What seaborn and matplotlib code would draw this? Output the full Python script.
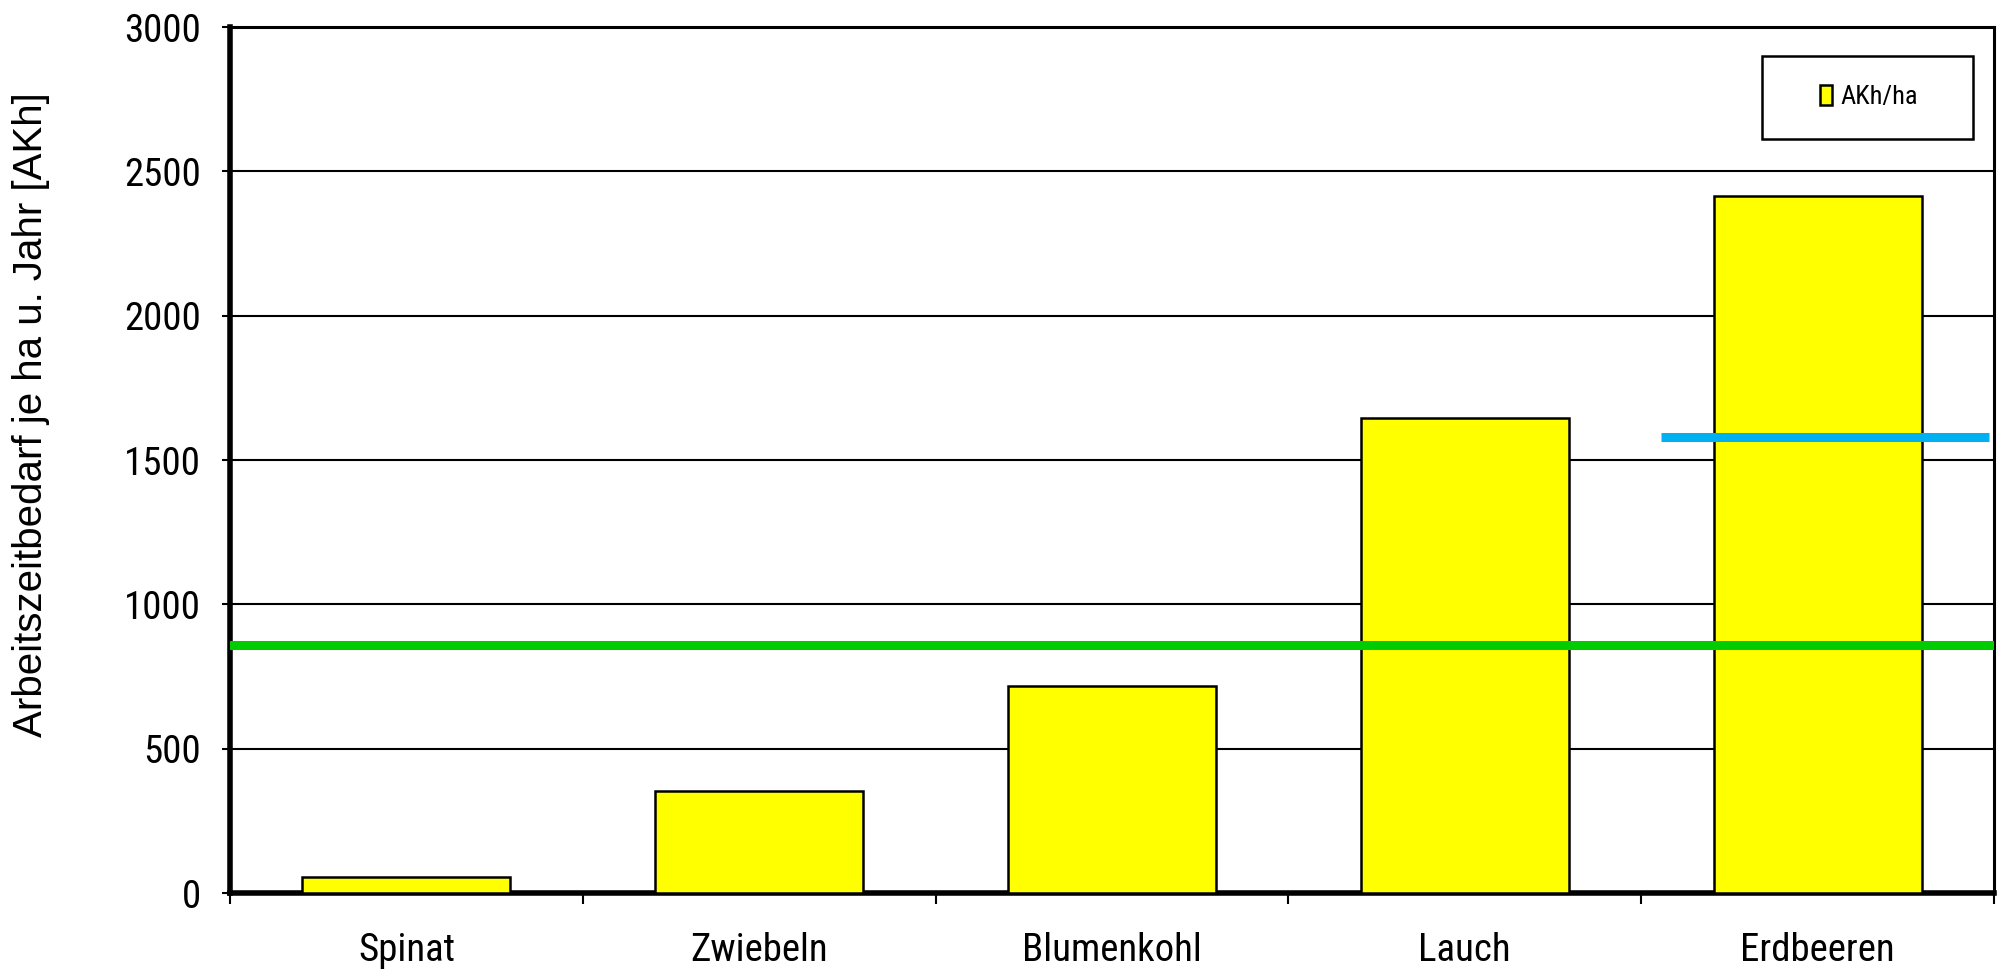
import matplotlib
matplotlib.use("Agg")
import matplotlib.pyplot as plt
from matplotlib import font_manager
from matplotlib.patches import Rectangle
import seaborn as sns
import pandas as pd

categories = ["Spinat", "Zwiebeln", "Blumenkohl", "Lauch", "Erdbeeren"]
akh_per_ha = [55, 355, 718, 1645, 2415]
green_level = 860
blue_level = 1580
y_ticks = [0, 500, 1000, 1500, 2000, 2500, 3000]
legend_label = "AKh/ha"
y_label = "Arbeitszeitbedarf je ha u. Jahr [AKh]"

sns.set_theme(style="white")
names = {f.name for f in font_manager.fontManager.ttflist}
narrow = None
for cand in ["Liberation Sans Narrow", "Roboto Condensed", "Open Sans Condensed", "Noto Sans Condensed"]:
    if cand in names:
        narrow = cand
        break
if narrow is None:
    narrow = "Liberation Sans"
plt.rcParams['font.family'] = [narrow, 'DejaVu Sans']

df = pd.DataFrame({"cat": categories, "val": akh_per_ha})

fig = plt.figure(figsize=(20.02, 9.72), dpi=100)
ax = fig.add_axes([230/2002, 1-893/972, (1994-230)/2002, (893-27)/972])

sns.barplot(data=df, x="cat", y="val", color="#FFFF00", edgecolor="black",
            linewidth=1.8, width=0.59, saturation=1, ax=ax, label=legend_label, zorder=3)

ax.set_xlim(-0.5, len(categories) - 0.5)
ax.set_ylim(0, 3000)
ax.set_yticks(y_ticks)
ax.yaxis.grid(True, color="black", linewidth=1.5)
ax.set_axisbelow(True)

ax.axhline(green_level, color="#00CC00", linewidth=6.5, zorder=4)
ax.plot([3.556, 4.486], [blue_level, blue_level], color="#00B0F0", linewidth=6.5, zorder=4, solid_capstyle="butt")

for side, lw in [("left", 4), ("bottom", 4), ("top", 2.2), ("right", 2.2)]:
    ax.spines[side].set_visible(True)
    ax.spines[side].set_color("black")
    ax.spines[side].set_linewidth(lw)

ax.set_xticks(range(len(categories)))
ax.set_xticklabels(categories, fontsize=28, color="black")
ax.set_xticks([i - 0.5 for i in range(len(categories) + 1)], minor=True)
ax.tick_params(axis="x", which="major", length=0, pad=28)
ax.tick_params(axis="x", which="minor", length=8, width=1.5, direction="out", color="black", bottom=True)
ax.tick_params(axis="y", which="major", length=6, width=1.5, direction="out", color="black", left=True, pad=15, labelsize=28, labelcolor="black")
ax.set_xlabel("")
ax.set_ylabel(y_label, family=["Liberation Sans", "DejaVu Sans"], fontsize=29, color="black")
ax.yaxis.set_label_coords(-0.102, 0.552)

# legend frame (drawn as a box) and legend content centred in it
box = Rectangle((1762/2002, 1-139/972), (1973-1762)/2002, (139-56)/972,
                transform=fig.transFigure, facecolor="white", edgecolor="black",
                linewidth=1.8, zorder=5)
ax.add_patch(box)
leg = ax.legend(loc="center", bbox_to_anchor=(1869/2002, 1-97/972), bbox_transform=fig.transFigure,
                frameon=False, fontsize=19,
                handlelength=0.45, handleheight=0.8, handletextpad=0.3, borderpad=0,
                borderaxespad=0)
leg.set_zorder(6)
for t in leg.get_texts():
    t.set_color("black")

fig.savefig("out.png", dpi=100, facecolor="white")
